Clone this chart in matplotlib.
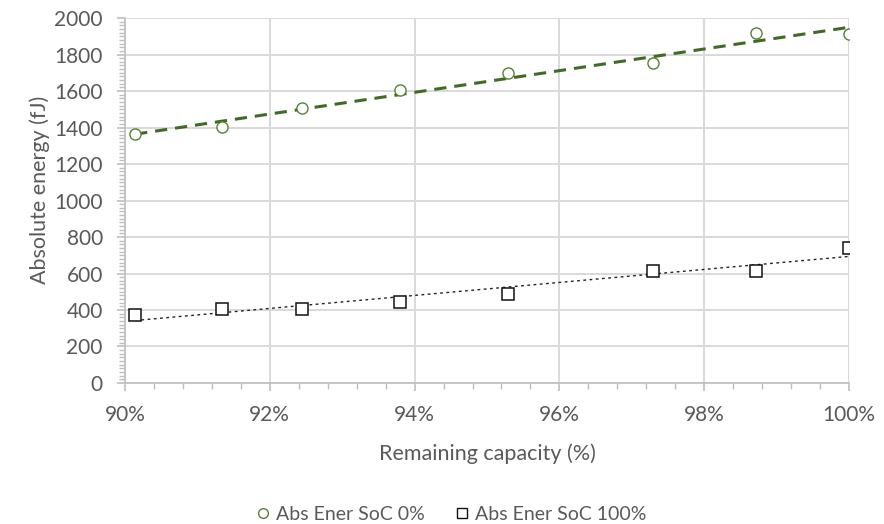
import numpy as np
import matplotlib.pyplot as plt
from matplotlib.ticker import MultipleLocator, FuncFormatter
from matplotlib.lines import Line2D

# Data
capacity = [90.14, 91.34, 92.45, 93.80, 95.29, 97.29, 98.71, 100.0]   # remaining capacity (%)
soc0 = [1362, 1402, 1506, 1606, 1700, 1752, 1916, 1915]              # Abs Ener SoC 0% (fJ)
soc100 = [371, 408, 408, 442, 490, 614, 616, 740]                    # Abs Ener SoC 100% (fJ)

labels = ['Abs Ener SoC 0%', 'Abs Ener SoC 100%']

plt.rcParams['font.family'] = ['Lato', 'DejaVu Sans']
grey = '#595959'
green = '#548235'

fig = plt.figure(figsize=(8.84, 5.24), dpi=100)
ax = fig.add_axes([0.1414, 0.2691, 0.8190, 0.6965])

x = np.array(capacity)

# linear trend lines
for y, col, ls, lw in [(soc0, '#3f6b25', (0, (4, 2.6)), 2.2), (soc100, '#222222', (0, (2, 2.5)), 1.0)]:
    k, b = np.polyfit(x, y, 1)
    xx = np.array([x.min(), x.max()])
    ax.plot(xx, k * xx + b, color=col, linestyle=ls, linewidth=lw, zorder=2)

ax.plot(x, soc0, 'o', markersize=8, markerfacecolor='white', markeredgecolor=green,
        markeredgewidth=1.0, zorder=3, linestyle='none')
ax.plot(x, soc100, 's', markersize=8, markerfacecolor='white', markeredgecolor='#111111',
        markeredgewidth=1.1, zorder=3, linestyle='none')

ax.set_xlim(90, 100)
ax.set_ylim(0, 2000)
ax.xaxis.set_major_locator(MultipleLocator(2))
ax.xaxis.set_minor_locator(MultipleLocator(0.4))
ax.yaxis.set_major_locator(MultipleLocator(200))
ax.yaxis.set_minor_locator(MultipleLocator(20))
ax.xaxis.set_major_formatter(FuncFormatter(lambda v, p: f'{v:.0f}%'))

ax.grid(True, which='major', color='#d9d9d9', linewidth=1.4)
ax.set_axisbelow(True)
for s in ['top', 'right']:
    ax.spines[s].set_visible(False)
for s in ['left', 'bottom']:
    ax.spines[s].set_color('#bfbfbf')
    ax.spines[s].set_linewidth(1.2)

ax.tick_params(which='major', colors='#bfbfbf', labelcolor=grey, labelsize=15, length=6, width=1.2)
ax.tick_params(which='minor', colors='#bfbfbf', length=4, width=1.0)
ax.tick_params(axis='x', pad=10)
ax.tick_params(axis='y', pad=10)

ax.set_xlabel('Remaining capacity (%)', fontsize=15.5, color=grey)
ax.set_ylabel('Absolute energy (fJ)', fontsize=15.5, color=grey)
ax.xaxis.set_label_coords(0.5, -0.165)
ax.yaxis.set_label_coords(-0.103, 0.53)

handles = [
    Line2D([], [], marker='o', linestyle='none', markersize=7, markerfacecolor='white',
           markeredgecolor=green, markeredgewidth=1.0),
    Line2D([], [], marker='s', linestyle='none', markersize=7, markerfacecolor='white',
           markeredgecolor='#111111', markeredgewidth=1.0),
]
leg = fig.legend(handles, labels, loc='center', bbox_to_anchor=(0.51, 0.018), ncol=2,
                 frameon=False, fontsize=14, handlelength=0.8, handletextpad=0.3,
                 columnspacing=1.5)
for t in leg.get_texts():
    t.set_color(grey)

fig.savefig('out.png', dpi=100)
